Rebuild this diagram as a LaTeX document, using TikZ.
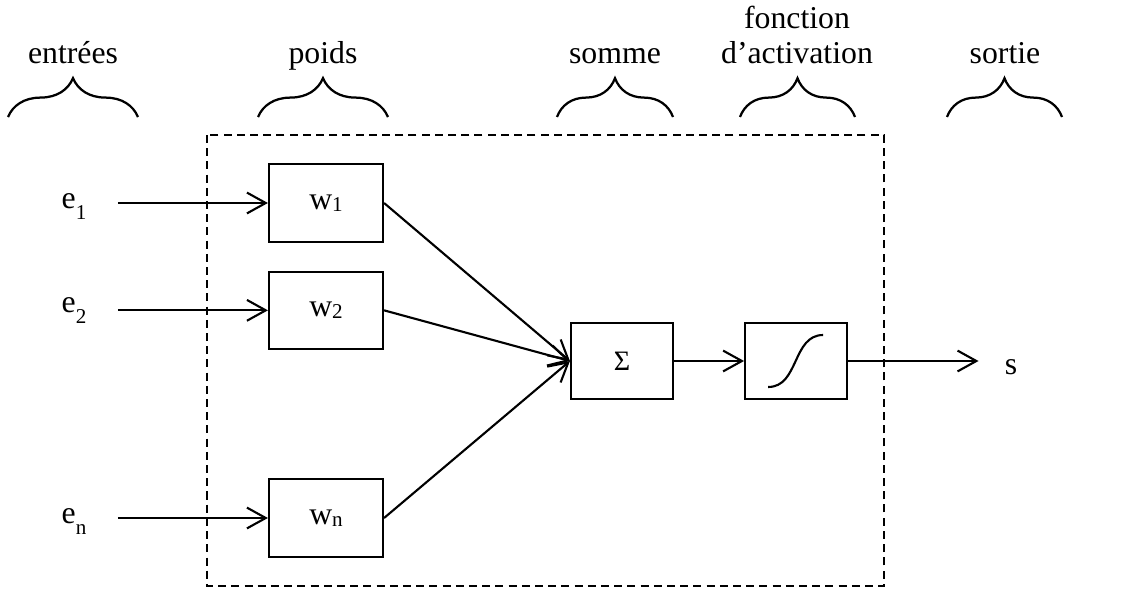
\documentclass[tikz,border=0pt]{standalone}
\usepackage{fontspec}
\setmainfont{Liberation Serif}
\usetikzlibrary{positioning,arrows.meta,decorations.pathreplacing}

\newcommand{\esub}[1]{e\raisebox{-0.35em}{\fontsize{15}{15}\selectfont #1}}
\newcommand{\wsub}[1]{w\raisebox{-0.05em}{\fontsize{15}{15}\selectfont #1}}

\tikzset{
  block/.style={draw,line width=1.5pt,minimum width=2.85cm,minimum height=1.93cm,inner sep=0pt},
  sumbox/.style={block,minimum width=2.55cm,minimum height=1.88cm},
  lbl/.style={inner sep=0pt},
  arr/.style={line width=1.5pt,-{Straight Barb[length=0.47cm,width=0.52cm,line width=1.5pt]}},
  brace/.style={line width=1.6pt,decorate,decoration={brace,amplitude=0.97cm}},
  frame/.style={line width=1.5pt,dash pattern=on 0.2cm off 0.13cm}
}

\begin{document}
\begin{tikzpicture}[x=0.025cm,y=-0.025cm,auto,node distance=1cm,
  font=\fontsize{22.6}{24.8}\selectfont]
\useasboundingbox (0,0) rectangle (1124,592);
% headers
\node[lbl,anchor=base] (hin) at (73,63) {entrées};
\node[lbl,anchor=base] (hw) at (323,63) {poids};
\node[lbl,anchor=base] (hsum) at (615,63) {somme};
\node[lbl,anchor=base,align=center] (hact) at (797,63) {fonction\\d’activation};
\node[lbl,anchor=base] (hout) at (1005,63) {sortie};
\draw[brace] (8,117) -- (138,117);
\draw[brace] (258,117) -- (388,117);
\draw[brace] (557,117) -- (673,117);
\draw[brace] (740,117) -- (855,117);
\draw[brace] (947,117) -- (1062,117);
% the neuron
\draw[frame] (207,135) rectangle (884,586);
\node[block] (w1) at (326,203) {\wsub{1}};
\node[block] (w2) [below=0.7cm of w1] {\wsub{2}};
\node[block] (wn) at (326,518) {\wsub{n}};
\node[sumbox] (sum) at (622,361) {\fontsize{20}{20}\selectfont Σ};
\node[sumbox] (act) [right=1.75cm of sum] {};
\draw[line width=1.5pt,shift={(act.center)}] (-28,26) .. controls (3,26) and (-4,-26) .. (27,-26);
% inputs and output
\node[lbl,anchor=base] (e1) at (74,208) {\esub{1}};
\node[lbl,anchor=base] (e2) at (74,312) {\esub{2}};
\node[lbl,anchor=base] (en) at (74,523) {\esub{n}};
\node[lbl,anchor=base] (s) at (1011,374) {s};
\draw[arr,shorten <=0.78cm] (e1.east |- w1) -- (w1);
\draw[arr,shorten <=0.78cm] (e2.east |- w2) -- (w2);
\draw[arr,shorten <=0.78cm] (en.east |- wn) -- (wn);
\draw[arr] (w1.east) -- (sum.west);
\draw[arr] (w2.east) -- (sum.west);
\draw[arr] (wn.east) -- (sum.west);
\draw[arr] (sum) -- (act);
\draw[arr,shorten >=0.65cm] (act.east) -- (act.east -| s.west);
\end{tikzpicture}
\end{document}
